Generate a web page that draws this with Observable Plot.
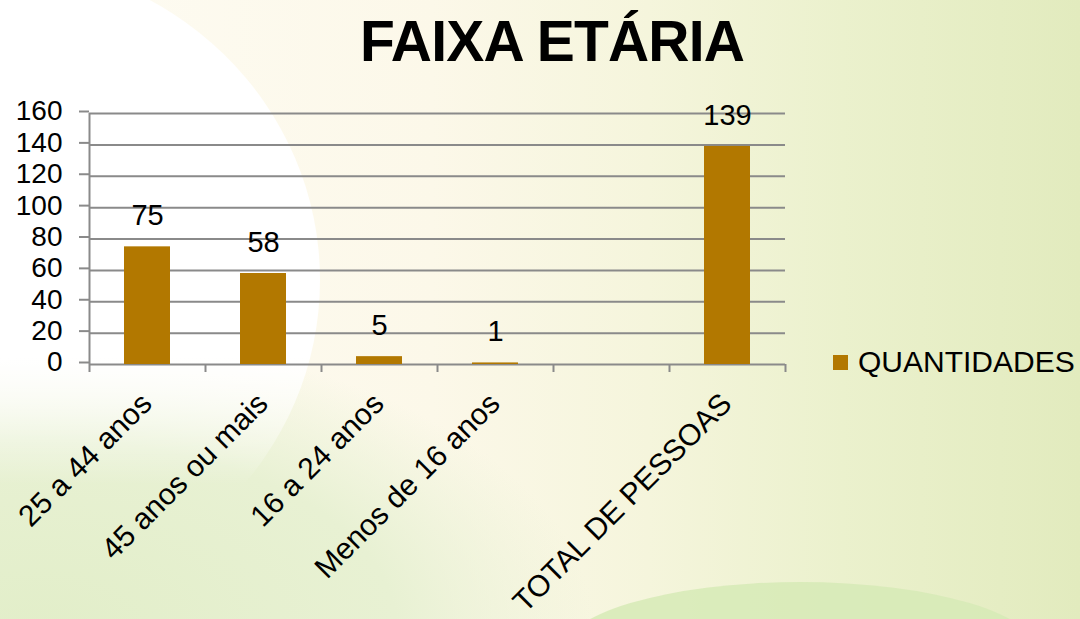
<!DOCTYPE html>
<html>
<head>
<meta charset="utf-8">
<script src="https://cdn.jsdelivr.net/npm/d3@7"></script>
<script src="https://cdn.jsdelivr.net/npm/@observablehq/plot@0.6"></script>
<style>
  body { margin: 0; }
  #stage {
    position: relative; width: 1080px; height: 619px; overflow: hidden;
    font-family: "Liberation Sans", Arial, sans-serif;
    background: linear-gradient(90deg, #fefcf4 0%, #fcf8e9 40%, #f5f5dc 60%, #ebf1cd 78%, #e2ebbe 100%);
  }
  .layer { position: absolute; pointer-events: none; }
  #greenBL { left: -200px; top: 330px; width: 800px; height: 500px; border-radius: 50%;
    background: radial-gradient(ellipse at 30% 60%, #e2eec9 0%, #e8f1d3 45%, rgba(232,241,211,0) 70%); }
  #white { left: -340px; top: -40px; width: 660px; height: 640px; border-radius: 50%;
    background: linear-gradient(to bottom, #ffffff 0%, #ffffff 62%, rgba(255,255,255,0) 82%); }
  #greenBR { left: 560px; top: 582px; width: 480px; height: 120px; border-radius: 50% 50% 0 0 / 60% 60% 0 0;
    background: #d6eab6; opacity: 0.85; }
  #title { position: absolute; left: 12px; top: 13px; width: 1080px; text-align: center;
    font-weight: bold; font-size: 57px; line-height: 57px; letter-spacing: -0.8px; color: #000; }
  #chart { position: absolute; left: 0; top: 0; }
  #legend { position: absolute; left: 833px; top: 346px; font-size: 30px; line-height: 32px; color: #000;
    display: flex; align-items: center; }
  #legend .sw { display: inline-block; width: 15px; height: 15px; background: #b27800; margin-right: 10px; }
</style>
</head>
<body>
<div id="stage">
  <div class="layer" id="greenBL"></div>
  <div class="layer" id="white"></div>
  <div class="layer" id="greenBR"></div>
  <div id="chart"></div>
  <div id="title">FAIXA ETÁRIA</div>
  <div id="legend"><span class="sw"></span>QUANTIDADES</div>
</div>
<script>
const categories = ["25 a 44 anos", "45 anos ou mais", "16 a 24 anos", "Menos de 16 anos", "", "TOTAL DE PESSOAS"];
const values = [75, 58, 5, 1, null, 139];
const yTicks = [0, 20, 40, 60, 80, 100, 120, 140, 160];
const seriesName = "QUANTIDADES";

const data = categories.map((c, i) => ({category: c, value: values[i]}));
const bars = data.filter(d => d.value != null);

const W = 1080, H = 619, mL = 89, mR = 295, mT = 113, mB = 255;
const step = (W - mL - mR) / categories.length;
const axisColor = "#8a8a8a";

const chart = Plot.plot({
  width: W, height: H,
  marginLeft: mL, marginRight: mR, marginTop: mT, marginBottom: mB,
  style: {background: "transparent", fontFamily: "'Liberation Sans', Arial, sans-serif", color: "#000", overflow: "visible"},
  x: {domain: categories, paddingInner: 0.6, paddingOuter: 0.3, axis: null},
  y: {domain: [0, 160], axis: null},
  marks: [
    Plot.gridY(yTicks, {stroke: axisColor, strokeOpacity: 1, strokeWidth: 2}),
    Plot.axisY(yTicks, {label: null, tickSize: 10, tickPadding: 17, fontSize: 28, stroke: axisColor, strokeWidth: 2, strokeOpacity: 1, tickFormat: d => String(d), dy: -2}),
    Plot.ruleX([categories[0]], {x: d => d, y1: 0, y2: 160, dx: -step / 2, stroke: axisColor, strokeWidth: 2}),
    Plot.axisX(categories, {label: null, tickSize: 8, tickFormat: () => "", dx: -step / 2, stroke: axisColor, strokeWidth: 2, strokeOpacity: 1}),
    Plot.axisX([categories[categories.length - 1]], {label: null, tickSize: 8, tickFormat: () => "", dx: step / 2, stroke: axisColor, strokeWidth: 2, strokeOpacity: 1}),
    Plot.barY(bars, {x: "category", y: "value", fill: "#b27800"}),
    Plot.text(bars, {x: "category", y: "value", text: d => String(d.value), dy: -31, fontSize: 29, fill: "#000"}),
    Plot.text(categories, {x: d => d, frameAnchor: "bottom", text: d => d, rotate: -45, textAnchor: "end", fontSize: 30, dy: 41, dx: 6, fill: "#000"})
  ]
});
document.getElementById("chart").appendChild(chart);
</script>
</body>
</html>
